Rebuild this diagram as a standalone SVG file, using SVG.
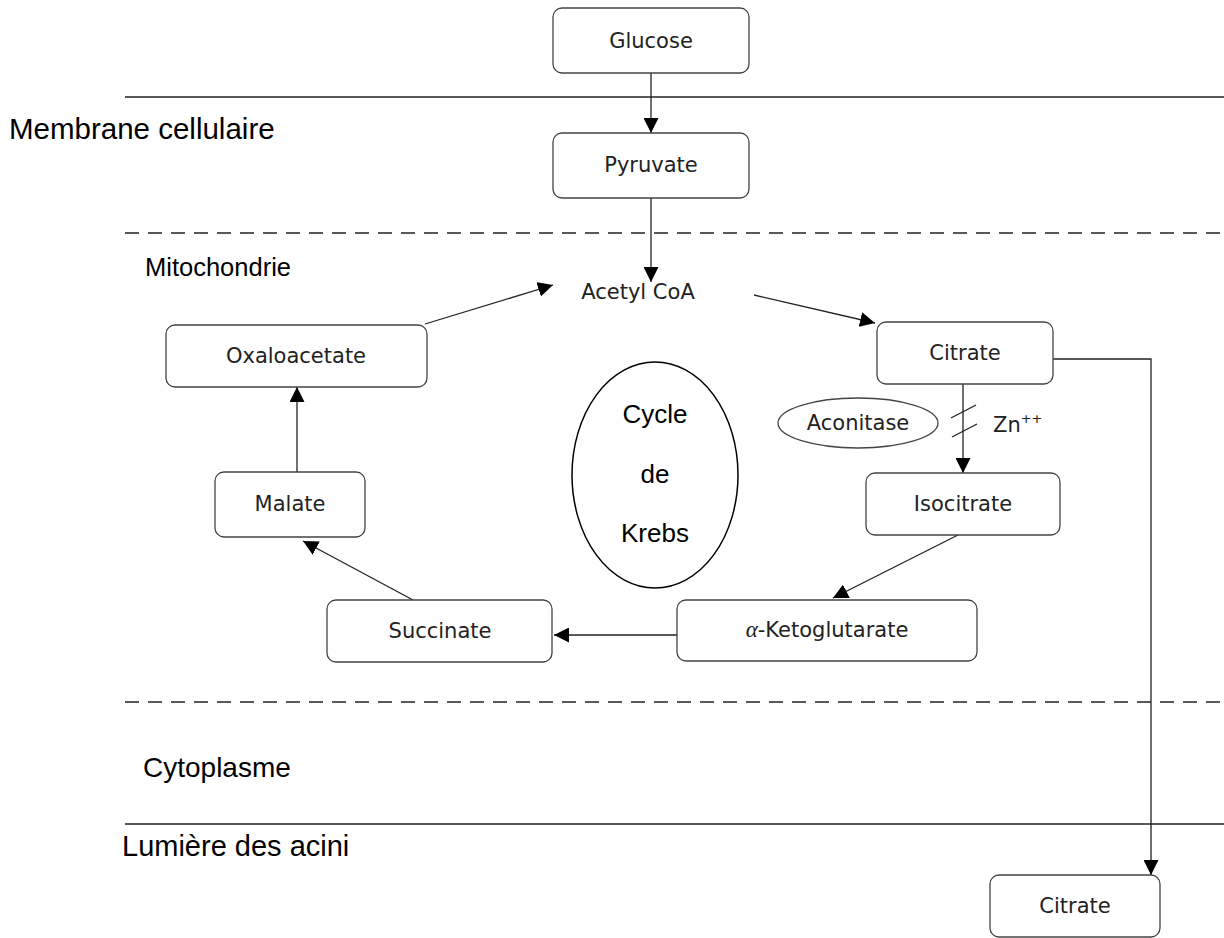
<svg xmlns="http://www.w3.org/2000/svg" width="1224" height="938" viewBox="0 0 1224 938">
<style>
.box{fill:#fff;stroke:#444;stroke-width:1.3}
.lbl{font-family:"DejaVu Sans",sans-serif;font-size:21px;fill:#222;text-anchor:middle}
.side{font-family:"Liberation Sans",Arial,sans-serif;font-size:28px;fill:#000}
.krebs{font-family:"Liberation Sans",Arial,sans-serif;font-size:26px;fill:#000;text-anchor:middle}
.mem{stroke:#222;stroke-width:1.3;fill:none}
.dash{stroke:#222;stroke-width:1.3;fill:none;stroke-dasharray:14 9}
.conn{stroke:#222;stroke-width:1.3;fill:none}
</style>
<defs>
<marker id="ah" markerUnits="userSpaceOnUse" markerWidth="15" markerHeight="15" viewBox="0 0 15 15" refX="15" refY="7.5" orient="auto">
<path d="M0,0 L15,7.5 L0,15 Z" fill="#000"/>
</marker>
</defs>
<rect width="1224" height="938" fill="#fff"/>
<g id="membranes">
<line class="mem" x1="125" y1="97" x2="1224" y2="97"/>
<line class="dash" x1="125" y1="233" x2="1224" y2="233"/>
<line class="dash" x1="125" y1="702" x2="1224" y2="702"/>
<line class="mem" x1="125" y1="824" x2="1224" y2="824"/>
</g>
<g id="side-labels">
<text class="side" x="9" y="139" style="font-size:29.5px">Membrane cellulaire</text>
<text class="side" x="145" y="276" style="font-size:25.5px">Mitochondrie</text>
<text class="side" x="143" y="777">Cytoplasme</text>
<text class="side" x="122" y="856" style="font-size:29px">Lumière des acini</text>
</g>
<g id="connectors">
<line class="conn" x1="651" y1="73" x2="651" y2="133" marker-end="url(#ah)"/>
<line class="conn" x1="651" y1="198" x2="651" y2="282" marker-end="url(#ah)"/>
<line class="conn" x1="425" y1="324" x2="553" y2="285" marker-end="url(#ah)"/>
<line class="conn" x1="754" y1="295" x2="875" y2="323" marker-end="url(#ah)"/>
<line class="conn" x1="963" y1="384" x2="963" y2="473" marker-end="url(#ah)"/>
<polyline class="conn" points="1053,359 1151,359 1151,875" marker-end="url(#ah)"/>
<line class="conn" x1="958" y1="535" x2="833" y2="598" marker-end="url(#ah)"/>
<line class="conn" x1="677" y1="635" x2="554" y2="635" marker-end="url(#ah)"/>
<line class="conn" x1="413" y1="600" x2="303" y2="541" marker-end="url(#ah)"/>
<line class="conn" x1="297" y1="472" x2="297" y2="387" marker-end="url(#ah)"/>
<line class="conn" x1="951" y1="418" x2="976" y2="405"/>
<line class="conn" x1="952" y1="437" x2="977" y2="424"/>
</g>
<g id="glucose">
<rect class="box" x="553" y="8" width="196" height="65" rx="9"/>
<text class="lbl" x="651" y="48">Glucose</text>
</g>
<g id="pyruvate">
<rect class="box" x="553" y="133" width="196" height="65" rx="9"/>
<text class="lbl" x="651" y="172">Pyruvate</text>
</g>
<g id="acetylcoa">
<text class="lbl" x="638" y="299">Acetyl CoA</text>
</g>
<g id="oxaloacetate">
<rect class="box" x="166" y="325" width="261" height="62" rx="9"/>
<text class="lbl" x="296" y="363">Oxaloacetate</text>
</g>
<g id="citrate">
<rect class="box" x="877" y="322" width="176" height="62" rx="9"/>
<text class="lbl" x="965" y="360">Citrate</text>
</g>
<g id="aconitase">
<ellipse cx="858" cy="423" rx="80" ry="25" fill="#fff" stroke="#444" stroke-width="1.3"/>
<text class="lbl" x="858" y="430">Aconitase</text>
</g>
<g id="zn">
<text class="lbl" x="993" y="432" style="text-anchor:start">Zn<tspan font-size="13" dy="-9">++</tspan></text>
</g>
<g id="isocitrate">
<rect class="box" x="866" y="473" width="194" height="62" rx="9"/>
<text class="lbl" x="963" y="511">Isocitrate</text>
</g>
<g id="ketoglutarate">
<rect class="box" x="677" y="600" width="300" height="61" rx="9"/>
<text class="lbl" x="827" y="637"><tspan font-family="'Liberation Serif',serif" font-style="italic" font-size="23">α</tspan>-Ketoglutarate</text>
</g>
<g id="succinate">
<rect class="box" x="327" y="600" width="225" height="62" rx="9"/>
<text class="lbl" x="440" y="638">Succinate</text>
</g>
<g id="malate">
<rect class="box" x="215" y="472" width="150" height="65" rx="9"/>
<text class="lbl" x="290" y="511">Malate</text>
</g>
<g id="krebs">
<ellipse cx="655" cy="475" rx="83" ry="113" fill="#fff" stroke="#000" stroke-width="1.5"/>
<text class="krebs" x="655" y="423">Cycle</text>
<text class="krebs" x="655" y="483">de</text>
<text class="krebs" x="655" y="542">Krebs</text>
</g>
<g id="citrate-lumen">
<rect class="box" x="990" y="875" width="170" height="62" rx="9"/>
<text class="lbl" x="1075" y="913">Citrate</text>
</g>
</svg>
